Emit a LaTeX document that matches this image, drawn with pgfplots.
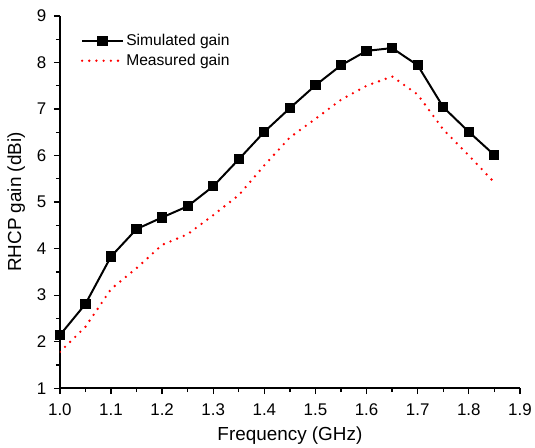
\documentclass[border=0pt]{standalone}
\usepackage{pgfplots}
\pgfplotsset{compat=1.18}
\usepackage{fontspec}
\setmainfont{Liberation Sans}
\begin{document}
\begin{tikzpicture}
\begin{axis}[
  name=ax,
  scale only axis,
  width=461bp, height=373bp,
  xmin=1.0, xmax=1.9, ymin=1, ymax=9,
  axis lines*=left,
  axis line style={line width=1.5bp},
  xtick={1.0,1.1,...,1.9},
  ytick={1,...,9},
  minor x tick num=1, minor y tick num=1,
  tick align=outside,
  major tick length=6bp, minor tick length=4bp,
  every tick/.style={black, line width=1.3bp},
  xticklabel style={yshift=-6bp, /pgf/number format/fixed, /pgf/number format/fixed zerofill, /pgf/number format/precision=1},
  yticklabel style={xshift=-4bp},
  /pgf/number format/assume math mode=true,
  tick label style={font=\fontsize{17}{19}\selectfont},
  label style={font=\fontsize{19}{21}\selectfont},
  xlabel={Frequency (GHz)},
  ylabel={RHCP gain (dBi)},
  xlabel style={yshift=-4bp},
  ylabel style={yshift=5bp},
  legend style={at={(0.045,0.96)}, anchor=north west, draw=none, fill=none,
    inner sep=0pt, font=\fontsize{15.7}{17}\selectfont, nodes={inner ysep=3.5bp}},
  legend cell align=left,
  legend image code/.code={\draw[mark repeat=2,mark phase=2,#1] plot coordinates {(0bp,0bp)(20.5bp,0bp)(41bp,0bp)};},
]
\addplot[black, line width=2bp, mark=square*, mark size=4.5bp, mark options={solid, line width=1.2bp}]
coordinates {
(1.00,2.14)(1.05,2.81)(1.10,3.83)(1.15,4.42)(1.20,4.67)(1.25,4.91)(1.30,5.34)
(1.35,5.92)(1.40,6.51)(1.45,7.02)(1.50,7.51)(1.55,7.94)(1.60,8.25)(1.65,8.31)
(1.70,7.94)(1.75,7.04)(1.80,6.51)(1.85,6.01)};
\addlegendentry{Simulated gain}
\addplot[red, line width=2.6bp, line cap=round, dash pattern=on 0pt off 7.2bp]
coordinates {
(1.00,1.78)(1.05,2.32)(1.10,3.13)(1.15,3.58)(1.20,4.08)(1.25,4.31)(1.30,4.72)
(1.35,5.15)(1.40,5.79)(1.45,6.39)(1.50,6.79)(1.55,7.20)(1.60,7.50)(1.65,7.70)
(1.70,7.31)(1.75,6.56)(1.80,6.00)(1.85,5.42)};
\addlegendentry{Measured gain}
\end{axis}
\path ([xshift=-60bp,yshift=-57bp]ax.south west) rectangle ([xshift=14bp,yshift=16bp]ax.north east);
\end{tikzpicture}
\end{document}
